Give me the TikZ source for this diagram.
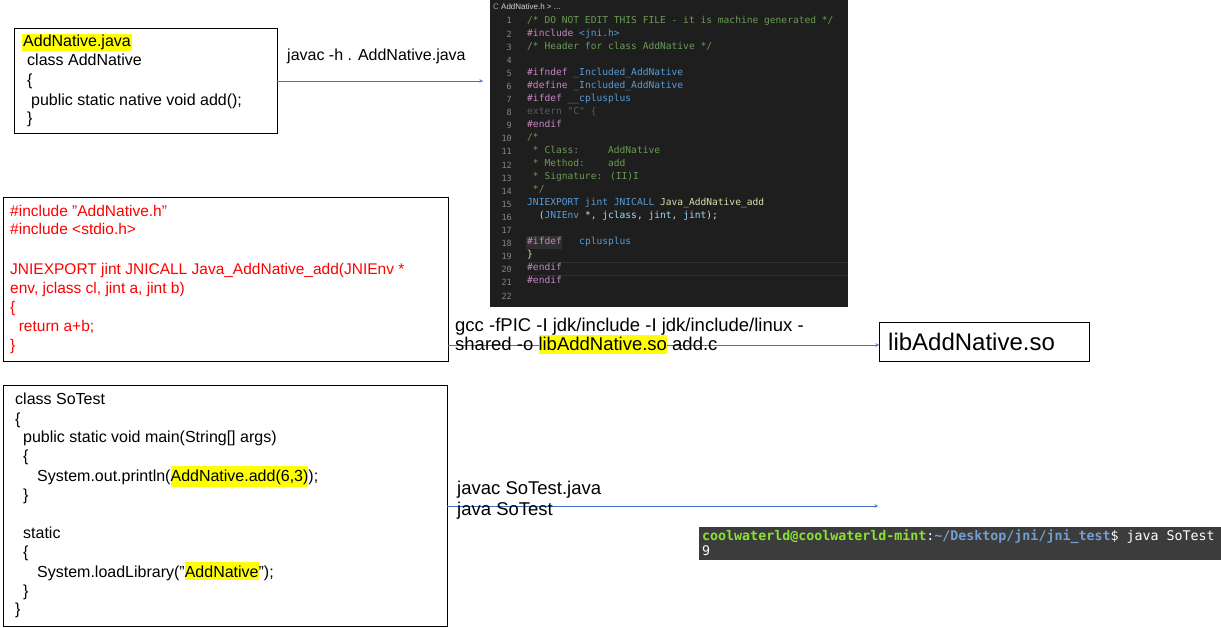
\documentclass[tikz,border=0pt]{standalone}
\usepackage{fontspec}
\setmainfont{Liberation Sans}
\newfontfamily\codefont{DejaVu Sans Mono}
\newcommand{\dq}{\symbol{34}}
\begin{document}
\begin{tikzpicture}[x=1pt,y=-1pt,
  txt/.style={anchor=base west,inner sep=0pt,font=\fontsize{16}{18}\selectfont},
  red/.style={txt,text=red,font=\fontsize{15.5}{17}\selectfont},
  big/.style={txt,font=\fontsize{18.5}{20}\selectfont},
  ed/.style={anchor=base west,inner sep=0pt,font=\codefont\fontsize{9.6}{11}\selectfont},
  num/.style={anchor=base east,inner sep=0pt,font=\codefont\fontsize{8.5}{10}\selectfont,text=edNum},
  arr/.style={draw=arrBlue,->,>=stealth,line width=0.6pt},
  box/.style={draw=black,line width=0.8pt}]
\definecolor{arrBlue}{HTML}{4472C4}
\definecolor{edBg}{HTML}{1E1E1E}
\definecolor{edNum}{HTML}{858585}
\definecolor{cCom}{HTML}{6A9955}
\definecolor{cDir}{HTML}{C586C0}
\definecolor{cMac}{HTML}{569CD6}
\definecolor{cTxt}{HTML}{D4D4D4}
\definecolor{cFn}{HTML}{DCDCAA}
\definecolor{cInact}{HTML}{5A5A5A}
\definecolor{cIdent}{HTML}{9CDCFE}
\definecolor{hl}{HTML}{FFFF00}
\definecolor{termBg}{HTML}{3C3C3C}
\definecolor{tGreen}{HTML}{8AE234}
\definecolor{tBlue}{HTML}{729FCF}
\definecolor{curLine}{HTML}{303030}
\useasboundingbox (0,0) rectangle (1221,628);
% box 1
\node[box,minimum width=263,minimum height=105,anchor=north west] (b1) at (14,28) {};
\node[txt,fill=hl,inner sep=1pt] (t11) at (22,47) {AddNative.java};
\node[txt] (t12) at (27,66) {class AddNative};
\node[txt] (t13) at (27,86) {\{};
\node[txt] (t14) at (31,106) {public static native void add();};
\node[txt] (t15) at (27,124) {\}};
% editor
\fill[edBg] (490,0) rectangle (848,307);
\node[anchor=base west,inner sep=0pt,font=\fontsize{8}{9}\selectfont,text=cTxt] (tab) at (493,10) {\textcolor{cDir}{C}\ AddNative.h \textgreater\ ...};
\draw[curLine,line width=0.8pt] (527,262) -- (848,262) (527,275) -- (848,275);
\fill[black!60!white!25!edBg] (526,236) rectangle (562,249);
\foreach \i in {1,...,22}{\node[num] at (512,{21+13.1*(\i-1)+3}) {\i};}
\node[ed,text=cCom] (e1) at (527,24) {/* DO NOT EDIT THIS FILE - it is machine generated */};
\node[ed] (e2) at (527,37) {\textcolor{cDir}{\#include} \textcolor{cMac}{<jni.h>}};
\node[ed,text=cCom] (e3) at (527,50) {/* Header for class AddNative */};
\node[ed] (e5) at (527,76) {\textcolor{cDir}{\#ifndef} \textcolor{cMac}{\_Included\_AddNative}};
\node[ed] (e6) at (527,89) {\textcolor{cDir}{\#define} \textcolor{cMac}{\_Included\_AddNative}};
\node[ed] (e7) at (527,102) {\textcolor{cDir}{\#ifdef} \textcolor{cMac}{\_\_cplusplus}};
\node[ed,text=cInact] (e8) at (527,115) {extern \dq C\dq\ \{};
\node[ed,text=cDir] (e9) at (527,128) {\#endif};
\node[ed,text=cCom] (e10) at (527,141) {/*};
\node[ed,text=cCom] (e11) at (527,154) {\ * Class:\ \ \ \ \ AddNative};
\node[ed,text=cCom] (e12) at (527,167) {\ * Method:\ \ \ \ add};
\node[ed,text=cCom] (e13) at (527,180) {\ * Signature: (II)I};
\node[ed,text=cCom] (e14) at (527,193) {\ */};
\node[ed] (e15) at (527,206) {\textcolor{cMac}{JNIEXPORT jint JNICALL} \textcolor{cFn}{Java\_AddNative\_add}};
\node[ed,text=cTxt] (e16) at (527,219) {\ \ (\textcolor{cMac}{JNIEnv} *, \textcolor{cIdent}{jclass}, \textcolor{cIdent}{jint}, \textcolor{cIdent}{jint});};
\node[ed] (e18) at (527,245) {\textcolor{cDir}{\#ifdef}\ \ \ \textcolor{cMac}{cplusplus}};
\node[ed,text=cTxt] (e19) at (527,258) {\}};
\node[ed,text=cDir] (e20) at (527,271) {\#endif};
\node[ed,text=cDir] (e21) at (527,284) {\#endif};
% arrow 1
\coordinate (a1s) at (277,81); \coordinate (a1e) at (483,81);
\draw[arr] (a1s) -- (a1e);
\node[txt] (l1) at (287,61) {javac -h . AddNative.java};
% red box
\node[box,minimum width=445,minimum height=164,anchor=north west] (b2) at (3,197) {};
\node[red] at (10,217) {\#include \dq AddNative.h\dq};
\node[red] at (10,235) {\#include <stdio.h>};
\node[red] at (10,275) {JNIEXPORT jint JNICALL Java\_AddNative\_add(JNIEnv *};
\node[red] at (10,294) {env, jclass cl, jint a, jint b)};
\node[red] at (10,313) {\{};
\node[red] at (10,332) {\ \ return a+b;};
\node[red] at (10,350) {\}};
% lib box
\node[box,minimum width=210,minimum height=39,anchor=north west] (b4) at (879,322) {};
\node[anchor=west,inner sep=0pt,font=\fontsize{24}{26}\selectfont] at (888,342) {libAddNative.so};
\coordinate (a2s) at (448,345);
\draw[arr] (a2s) -- (b4.west |- a2s);
\node[big] (l2a) at (455,332) {gcc -fPIC -I jdk/include -I jdk/include/linux -};
\node[big] (l2b) at (455,351) {shared -o \colorbox{hl}{\hspace*{-3pt}libAddNative.so\hspace*{-3pt}} add.c};
% box 3
\node[box,minimum width=444,minimum height=241,anchor=north west] (b3) at (3,385) {};
\node[txt] at (15,404) {class SoTest};
\node[txt] at (15,424) {\{};
\node[txt] at (23,442) {public static void main(String[] args)};
\node[txt] at (23,461) {\{};
\node[txt] at (37,481) {System.out.println(\colorbox{hl}{\hspace*{-3pt}AddNative.add(6,3)\hspace*{-3pt}});};
\node[txt] at (23,500) {\}};
\node[txt] at (23,538) {static};
\node[txt] at (23,557) {\{};
\node[txt] at (37,577) {System.loadLibrary(\dq\colorbox{hl}{\hspace*{-3pt}AddNative\hspace*{-3pt}}\dq);};
\node[txt] at (23,596) {\}};
\node[txt] at (15,614) {\}};
\coordinate (a3s) at (447,506); \coordinate (a3e) at (878,506);
\draw[arr] (a3s) -- (a3e);
\node[big] at (457,494) {javac SoTest.java};
\node[big] at (457,515) {java SoTest};
% terminal
\fill[termBg] (699,527) rectangle (1221,560);
\node[anchor=base west,inner sep=0pt,font=\codefont\fontsize{13.3}{15}\selectfont,text=white] (term) at (702,540) {\textcolor{tGreen}{\bfseries coolwaterld@coolwaterld-mint}:\textcolor{tBlue}{\bfseries \textasciitilde/Desktop/jni/jni\_test}\$ java SoTest};
\node[anchor=base west,inner sep=0pt,font=\codefont\fontsize{13.3}{15}\selectfont,text=white] (t9) at (702,555) {9};
\end{tikzpicture}
\end{document}
